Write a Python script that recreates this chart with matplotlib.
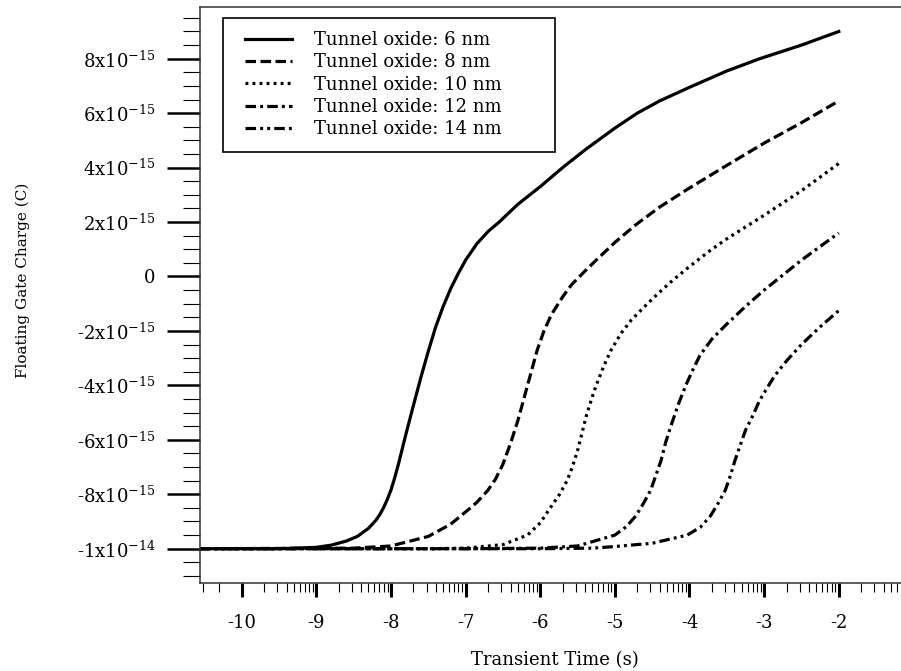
import matplotlib
matplotlib.use("Agg")
import matplotlib.pyplot as plt
from matplotlib.patches import Rectangle
import numpy as np

plt.rcParams['font.family'] = ['DejaVu Serif']
plt.rcParams['mathtext.default'] = 'regular'
plt.rcParams['axes.unicode_minus'] = False

# x: log10 of transient time (s), y: floating gate charge in units of 1e-15 C
x_6nm = [-10.56, -9.5, -9.0, -8.8, -8.6, -8.45, -8.3, -8.2, -8.15, -8.1, -8.05, -8.0, -7.95,
         -7.9, -7.8, -7.7, -7.6, -7.5, -7.4, -7.3, -7.2, -7.1, -7.0, -6.85, -6.7, -6.55,
         -6.3, -6.0, -5.7, -5.4, -5.0, -4.7, -4.4, -4.0, -3.5, -3.06, -2.5, -2.0]
y_6nm = [-10.0, -10.0, -9.95, -9.87, -9.72, -9.55, -9.25, -8.95, -8.75, -8.5, -8.2, -7.85, -7.4,
         -6.9, -5.8, -4.75, -3.72, -2.75, -1.85, -1.1, -0.45, 0.1, 0.6, 1.2, 1.65, 2.0,
         2.65, 3.3, 4.0, 4.65, 5.45, 6.0, 6.45, 6.95, 7.55, 8.0, 8.5, 9.0]

x_8nm = [-10.56, -8.5, -8.0, -7.5, -7.2, -7.0, -6.85, -6.7, -6.6, -6.5, -6.4, -6.3, -6.18,
         -6.1, -6.04, -5.95, -5.85, -5.7, -5.58, -5.4, -5.25, -5.0, -4.72, -4.4,
         -4.03, -3.52, -3.0, -2.5, -2.0]
y_8nm = [-10.0, -9.98, -9.9, -9.55, -9.1, -8.65, -8.3, -7.85, -7.45, -6.9, -6.15, -5.3, -4.1,
         -3.3, -2.7, -2.0, -1.4, -0.75, -0.3, 0.2, 0.6, 1.25, 1.9, 2.55,
         3.2, 4.05, 4.9, 5.65, 6.45]

x_10nm = [-10.56, -7.5, -7.0, -6.5, -6.17, -6.0, -5.84, -5.74, -5.64, -5.57, -5.5, -5.44,
          -5.38, -5.3, -5.25, -5.15, -5.05, -4.92, -4.78, -4.6, -4.45, -4.25, -4.03,
          -3.75, -3.52, -3.0, -2.5, -2.0]
y_10nm = [-10.0, -10.0, -9.98, -9.85, -9.5, -9.05, -8.4, -8.0, -7.5, -7.0, -6.4, -5.75,
          -5.1, -4.4, -4.0, -3.3, -2.7, -2.1, -1.6, -1.1, -0.7, -0.2, 0.3,
          0.9, 1.35, 2.25, 3.15, 4.15]

x_12nm = [-10.56, -7.0, -6.0, -5.5, -5.0, -4.85, -4.72, -4.62, -4.52, -4.45, -4.38, -4.32,
          -4.25, -4.15, -4.05, -3.95, -3.86, -3.7, -3.52, -3.25, -3.0, -2.75, -2.5, -2.0]
y_12nm = [-10.0, -10.0, -9.98, -9.9, -9.5, -9.2, -8.8, -8.35, -7.85, -7.3, -6.75, -6.1,
          -5.5, -4.7, -4.0, -3.4, -2.9, -2.3, -1.8, -1.1, -0.5, 0.05, 0.6, 1.6]

x_14nm = [-10.56, -6.0, -5.3, -5.0, -4.5, -4.03, -3.85, -3.72, -3.62, -3.52, -3.45, -3.39,
          -3.32, -3.25, -3.15, -3.06, -2.95, -2.86, -2.7, -2.5, -2.25, -2.0]
y_14nm = [-10.0, -10.0, -9.98, -9.92, -9.8, -9.5, -9.2, -8.8, -8.35, -7.85, -7.3, -6.75,
          -6.2, -5.65, -5.1, -4.55, -4.05, -3.65, -3.1, -2.5, -1.85, -1.25]

labels = ["Tunnel oxide: 6 nm", "Tunnel oxide: 8 nm", "Tunnel oxide: 10 nm",
          "Tunnel oxide: 12 nm", "Tunnel oxide: 14 nm"]

x_major = [-10, -9, -8, -7, -6, -5, -4, -3, -2]
y_major = [-10, -8, -6, -4, -2, 0, 2, 4, 6, 8]
y_ticklabels = [r'-1x10$^{-14}$', r'-8x10$^{-15}$', r'-6x10$^{-15}$', r'-4x10$^{-15}$',
                r'-2x10$^{-15}$', '0', r'2x10$^{-15}$', r'4x10$^{-15}$',
                r'6x10$^{-15}$', r'8x10$^{-15}$']

W, H = 901, 671
fig = plt.figure(figsize=(W / 100, H / 100), dpi=100)
ax = fig.add_axes([200 / W, 1 - 583 / H, 710 / W, 576 / H])

styles = ['-', (0, (3.3, 1.4)), (0, (0.9, 1.3)), (0, (3.3, 1.3, 0.9, 1.3)),
          (0, (3.3, 1.3, 0.9, 1.3, 0.9, 1.3))]
series = [(x_6nm, y_6nm), (x_8nm, y_8nm), (x_10nm, y_10nm), (x_12nm, y_12nm), (x_14nm, y_14nm)]
for (xs, ys), ls, lab in zip(series, styles, labels):
    ax.plot(xs, np.array(ys) * 1e-15, color='black', lw=2.3, linestyle=ls, label=lab)

ax.set_xlim(-10.558, -1.138)
ax.set_ylim(-11.26e-15, 9.9e-15)

# log-style minor ticks inside each decade
x_minor = [-11 + np.log10(k) for k in (3, 5)]
for d in range(-10, -1):
    x_minor += [d + np.log10(k) for k in range(2, 10)]
ax.set_xticks(x_major)
ax.set_xticklabels([str(v) for v in x_major])
ax.set_xticks(x_minor, minor=True)
ax.set_yticks(np.array(y_major) * 1e-15)
ax.set_yticklabels(y_ticklabels)
ax.set_yticks(np.arange(-11, 9.6, 0.5) * 1e-15, minor=True)

ax.tick_params(axis='y', which='major', length=24, width=1.8, pad=8, labelsize=13)
ax.tick_params(axis='y', which='minor', length=12, width=0.8)
ax.tick_params(axis='x', which='major', length=10, width=2.2, pad=12, labelsize=13)
ax.tick_params(axis='x', which='minor', length=6.5, width=0.8)

for s in ax.spines.values():
    s.set_linewidth(1.1)
    s.set_color('#333333')
ax.spines['right'].set_visible(False)

ax.set_xlabel('Transient Time (s)', fontsize=13, labelpad=14)
ax.set_ylabel('Floating Gate Charge (C)', fontsize=11)
ax.yaxis.set_label_coords(-0.24, 0.526)

# legend without its own frame, boxed by a separate rectangle
leg = ax.legend(loc='upper left', bbox_to_anchor=(45 / 710, 1 - 24 / 576),
                frameon=False, fontsize=13, handlelength=2.6, handletextpad=1.2,
                labelspacing=0.24, borderpad=0, borderaxespad=0)
ax.add_patch(Rectangle((23 / 710, 1 - 145 / 576), 332 / 710, 134 / 576,
                       transform=ax.transAxes, fill=False, edgecolor='black',
                       linewidth=1.2, zorder=5))

fig.savefig('out.png', dpi=100)
